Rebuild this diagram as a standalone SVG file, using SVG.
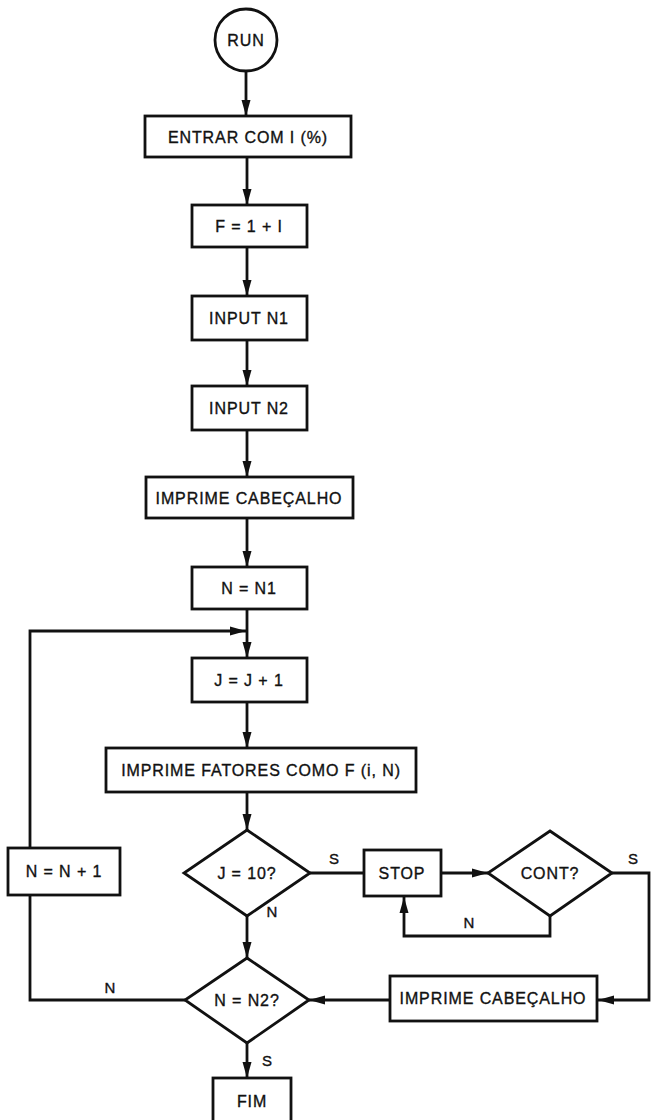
<svg xmlns="http://www.w3.org/2000/svg" width="651" height="1120" viewBox="0 0 651 1120">
  <defs>
    <marker id="arrow" markerUnits="userSpaceOnUse" markerWidth="16" markerHeight="10" refX="16" refY="5" orient="auto">
      <path d="M0,0.5 L16,5 L0,9.5 z" fill="#111"/>
    </marker>
    <style>
      .box { fill: #fff; stroke: #111; stroke-width: 2.8; }
      .wire { fill: none; stroke: #111; stroke-width: 2.8; }
      .lbl { font-family: "Liberation Sans", Arial, sans-serif; font-size: 16px; letter-spacing: 0.9px; fill: #111; text-anchor: middle; dominant-baseline: central; stroke: #111; stroke-width: 0.35; }
      .tag { font-family: "Liberation Sans", Arial, sans-serif; font-size: 15px; fill: #111; text-anchor: middle; dominant-baseline: central; stroke: #111; stroke-width: 0.35; }
    </style>
  </defs>
  <rect width="651" height="1120" fill="#fff"/>

  <!-- connectors -->
  <g id="connectors">
    <path class="wire" d="M246,72 V116" marker-end="url(#arrow)"/>
    <path class="wire" d="M247,157 V205" marker-end="url(#arrow)"/>
    <path class="wire" d="M247,247 V296" marker-end="url(#arrow)"/>
    <path class="wire" d="M247,340 V386" marker-end="url(#arrow)"/>
    <path class="wire" d="M247,430 V477" marker-end="url(#arrow)"/>
    <path class="wire" d="M247,518 V567" marker-end="url(#arrow)"/>
    <path class="wire" d="M247,609 V658" marker-end="url(#arrow)"/>
    <path class="wire" d="M247,702 V748" marker-end="url(#arrow)"/>
    <path class="wire" d="M247,792 V830" marker-end="url(#arrow)"/>
    <path class="wire" d="M247,916 V958" marker-end="url(#arrow)"/>
    <path class="wire" d="M247,1043 V1078" marker-end="url(#arrow)"/>
    <!-- J = 10? yes branch to STOP -->
    <path class="wire" d="M310,873 H364"/>
    <path class="wire" d="M441,873 H488" marker-end="url(#arrow)"/>
    <!-- CONT? no: back to STOP -->
    <path class="wire" d="M550,916 V936 H404 V897" marker-end="url(#arrow)"/>
    <!-- CONT? yes: reprint header -->
    <path class="wire" d="M612,873 H649 V1000 H598" marker-end="url(#arrow)"/>
    <path class="wire" d="M390,1000 H309" marker-end="url(#arrow)"/>
    <!-- N = N2? no: next N -->
    <path class="wire" d="M185,1000 H30 V895"/>
    <path class="wire" d="M30,848 V631 H246" marker-end="url(#arrow)"/>
  </g>

  <!-- connector labels -->
  <g id="labels">
    <text class="tag" x="334" y="858">S</text>
    <text class="tag" x="272" y="911">N</text>
    <text class="tag" x="633" y="858">S</text>
    <text class="tag" x="469" y="922">N</text>
    <text class="tag" x="110" y="987">N</text>
    <text class="tag" x="267" y="1060">S</text>
  </g>

  <g id="run">
    <circle class="box" cx="246" cy="40" r="31"/>
    <text class="lbl" x="246" y="40">RUN</text>
  </g>
  <g id="entrar">
    <rect class="box" x="145" y="116" width="206" height="41"/>
    <text class="lbl" x="248" y="137">ENTRAR COM I (%)</text>
  </g>
  <g id="fator">
    <rect class="box" x="192" y="205" width="115" height="42"/>
    <text class="lbl" x="249" y="226">F = 1 + I</text>
  </g>
  <g id="input-n1">
    <rect class="box" x="192" y="296" width="115" height="44"/>
    <text class="lbl" x="249" y="318">INPUT N1</text>
  </g>
  <g id="input-n2">
    <rect class="box" x="192" y="386" width="115" height="44"/>
    <text class="lbl" x="249" y="408">INPUT N2</text>
  </g>
  <g id="cabecalho">
    <rect class="box" x="146" y="477" width="207" height="41"/>
    <text class="lbl" x="249" y="498">IMPRIME CABEÇALHO</text>
  </g>
  <g id="n-n1">
    <rect class="box" x="192" y="567" width="115" height="42"/>
    <text class="lbl" x="249" y="588">N = N1</text>
  </g>
  <g id="j-inc">
    <rect class="box" x="192" y="658" width="115" height="44"/>
    <text class="lbl" x="249" y="680">J = J + 1</text>
  </g>
  <g id="fatores">
    <rect class="box" x="106" y="748" width="310" height="44"/>
    <text class="lbl" x="261" y="770">IMPRIME FATORES COMO F (i, N)</text>
  </g>
  <g id="j-test">
    <polygon class="box" points="247,830 310,873 247,916 184,873"/>
    <text class="lbl" x="247" y="873">J = 10?</text>
  </g>
  <g id="stop">
    <rect class="box" x="364" y="850" width="77" height="46"/>
    <text class="lbl" x="402" y="873">STOP</text>
  </g>
  <g id="cont">
    <polygon class="box" points="550,831 612,873 550,916 488,873"/>
    <text class="lbl" x="550" y="873">CONT?</text>
  </g>
  <g id="n-inc">
    <rect class="box" x="8" y="848" width="112" height="47"/>
    <text class="lbl" x="64" y="871">N = N + 1</text>
  </g>
  <g id="n-test">
    <polygon class="box" points="247,958 309,1000 247,1043 185,1000"/>
    <text class="lbl" x="247" y="1000">N = N2?</text>
  </g>
  <g id="cabecalho-2">
    <rect class="box" x="390" y="976" width="207" height="45"/>
    <text class="lbl" x="493" y="998">IMPRIME CABEÇALHO</text>
  </g>
  <g id="fim">
    <rect class="box" x="213" y="1078" width="78" height="50"/>
    <text class="lbl" x="252" y="1101">FIM</text>
  </g>
</svg>
